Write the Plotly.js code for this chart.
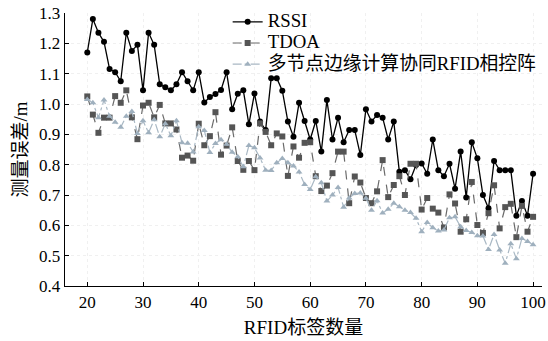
<!DOCTYPE html>
<html>
<head>
<meta charset="utf-8">
<script src="https://cdn.plot.ly/plotly-3.0.1.min.js"></script>
<style>html,body{margin:0;padding:0;background:#fff;}#chart{width:548px;height:341px;}</style>
</head>
<body>
<div id="chart"></div>
<script>
var tags = [20,21,22,23,24,25,26,27,28,29,30,31,32,33,34,35,36,37,38,39,40,41,42,43,44,45,46,47,48,49,50,51,52,53,54,55,56,57,58,59,60,61,62,63,64,65,66,67,68,69,70,71,72,73,74,75,76,77,78,79,80,81,82,83,84,85,86,87,88,89,90,91,92,93,94,95,96,97,98,99,100];

var rssi = [1.17,1.28,1.235,1.205,1.115,1.105,1.075,1.235,1.175,1.195,1.045,1.235,1.195,1.065,1.055,1.045,1.065,1.105,1.075,1.045,1.105,
  1.005,1.023,1.033,1.046,1.105,0.983,1.034,1.045,0.933,1.035,0.942,0.914,1.085,1.085,1.044,0.942,0.892,1.004,0.944,0.883,
  0.944,0.843,1.013,0.883,0.955,0.874,0.914,0.914,0.832,0.983,0.942,0.964,0.955,0.883,0.942,0.777,0.782,0.752,0.799,0.804,
  0.770,0.883,0.782,0.762,0.803,0.721,0.843,0.692,0.874,0.821,0.700,0.656,0.812,0.782,0.782,0.782,0.632,0.680,0.632,0.770];

var tdoa = [1.025,0.965,0.905,0.955,0.955,1.026,1.004,1.045,0.956,0.884,0.995,1.004,0.956,0.997,0.936,0.936,0.916,0.823,0.830,0.813,0.935,
  0.864,0.894,0.973,0.833,0.863,0.923,0.812,0.783,0.812,0.782,0.936,0.908,0.864,0.903,0.893,0.763,0.860,0.823,0.872,0.874,
  0.762,0.713,0.731,0.772,0.843,0.843,0.673,0.761,0.741,0.690,0.673,0.712,0.815,0.693,0.733,0.762,0.700,0.803,0.803,0.652,
  0.690,0.655,0.642,0.593,0.702,0.672,0.579,0.620,0.743,0.601,0.575,0.640,0.732,0.590,0.660,0.671,0.561,0.664,0.579,0.628];

var edge = [1.015,1.004,0.955,1.013,0.960,0.940,0.923,0.960,0.975,0.903,0.945,0.905,0.948,0.892,0.935,0.895,0.945,0.872,0.871,0.842,0.925,
  0.913,0.840,0.870,0.882,0.867,0.841,0.826,0.793,0.863,0.856,0.822,0.782,0.781,0.806,0.820,0.806,0.796,0.776,0.735,0.718,
  0.760,0.740,0.680,0.700,0.725,0.660,0.690,0.705,0.707,0.689,0.650,0.681,0.641,0.653,0.673,0.661,0.650,0.642,0.623,0.579,
  0.609,0.592,0.581,0.585,0.625,0.628,0.595,0.583,0.576,0.566,0.565,0.520,0.570,0.519,0.475,0.539,0.490,0.557,0.547,0.536];

var seriesNames = ['RSSI', 'TDOA', '多节点边缘计算协同RFID相控阵'];
var xTitle = 'RFID标签数量';
var yTitle = '测量误差/m';

var serif = '"Liberation Serif", "Times New Roman", "Noto Sans CJK SC", serif';
function big(s) { return '<span style="font-size:18.8px">' + s + '</span>'; }

var traces = [
  {x: tags, y: rssi, name: big(seriesNames[0]), type: 'scatter', mode: 'lines+markers',
   line: {color: '#000000', width: 1.3},
   marker: {symbol: 'circle', size: 6, color: '#000000'}},
  {x: tags, y: tdoa, name: big(seriesNames[1]), type: 'scatter', mode: 'lines+markers',
   line: {color: '#6a6a6a', width: 1.2, dash: 'dash'},
   marker: {symbol: 'square', size: 6, color: '#555555'}},
  {x: tags, y: edge, name: big(seriesNames[2]), type: 'scatter', mode: 'lines+markers',
   line: {color: '#a9b8c4', width: 1.2, dash: 'dashdot'},
   marker: {symbol: 'triangle-up', size: 6, color: '#9fb0be'}}
];

var layout = {
  width: 548, height: 341,
  margin: {l: 65, r: 6, t: 13, b: 55},
  paper_bgcolor: '#ffffff', plot_bgcolor: '#ffffff',
  font: {family: serif, color: '#000000', size: 15},
  showlegend: true,
  legend: {x: 0.341, y: 1.025, xanchor: 'left', yanchor: 'top',
           bgcolor: 'rgba(0,0,0,0)', font: {family: serif, size: 14, color: '#000'},
           tracegroupgap: 0},
  xaxis: {
    range: [16, 101.6], tickvals: [20,30,40,50,60,70,80,90,100],
    ticks: 'inside', ticklen: 4, tickcolor: '#000',
    showline: true, linecolor: '#000', linewidth: 1.3,
    showgrid: true, gridcolor: '#f0f0f0', griddash: 'dot', zeroline: false,
    tickfont: {family: serif, size: 17},
    title: {text: xTitle, font: {family: serif, size: 19}, standoff: 10}
  },
  yaxis: {
    range: [0.4, 1.3], tickvals: [0.4,0.5,0.6,0.7,0.8,0.9,1.0,1.1,1.2,1.3],
    ticktext: ['0.4','0.5','0.6','0.7','0.8','0.9','1.0','1.1','1.2','1.3'],
    ticks: 'inside', ticklen: 4, tickcolor: '#000',
    showline: true, linecolor: '#000', linewidth: 1.3,
    showgrid: true, gridcolor: '#f0f0f0', griddash: 'dot', zeroline: false,
    tickfont: {family: serif, size: 17},
    title: {text: yTitle, font: {family: serif, size: 19}, standoff: 6}
  }
};

Plotly.newPlot('chart', traces, layout, {displayModeBar: false, staticPlot: true});
</script>
</body>
</html>
